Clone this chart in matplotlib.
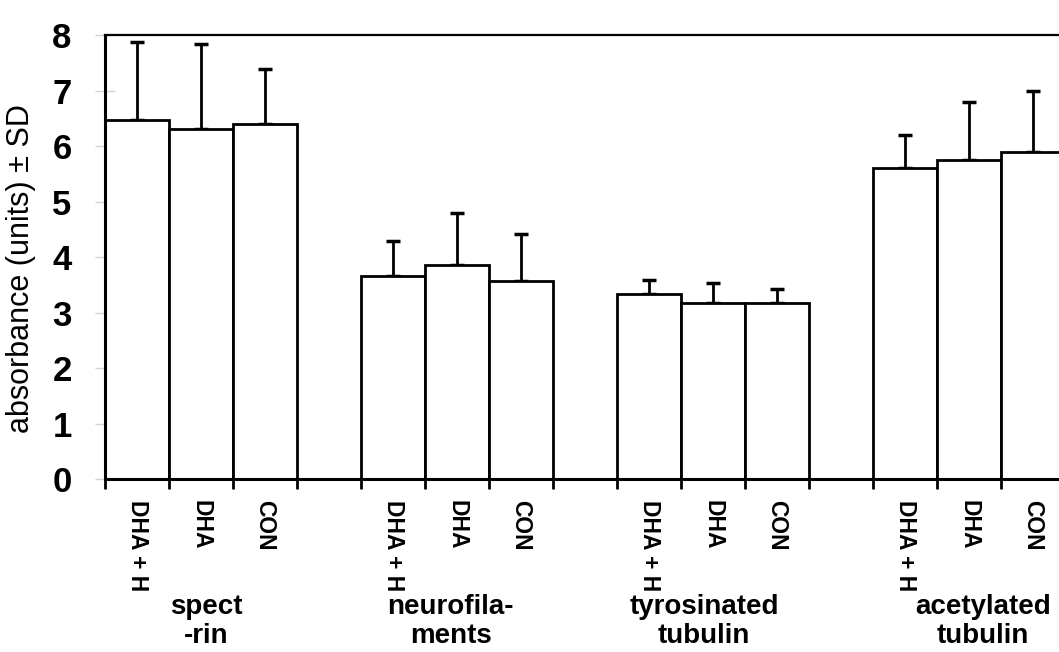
import numpy as np
import matplotlib
matplotlib.use("Agg")
import matplotlib.pyplot as plt

plt.rcParams['font.family'] = ['Liberation Sans', 'DejaVu Sans']

# absorbance per protein, three treatments each
proteins = ["spect\n-rin", "neurofila-\nments", "tyrosinated\ntubulin", "acetylated\ntubulin"]
treatments = ["DHA + H", "DHA", "CON"]
means = [
    [6.46, 6.31, 6.39],   # spectrin
    [3.65, 3.86, 3.57],   # neurofilaments
    [3.33, 3.17, 3.17],   # tyrosinated tubulin
    [5.61, 5.74, 5.90],   # acetylated tubulin
]
sd = [
    [1.42, 1.52, 0.99],
    [0.63, 0.93, 0.84],
    [0.26, 0.37, 0.26],
    [0.59, 1.05, 1.10],
]

fig = plt.figure(figsize=(10.59, 6.52), dpi=100)
ax = fig.add_axes([0.0992, 0.2653, 0.9065, 0.681])

# each group takes 3 slots, then one empty slot
centers, heights, errs, labels = [], [], [], []
for g in range(len(proteins)):
    for t in range(len(treatments)):
        centers.append(g * 4 + t + 0.5)
        heights.append(means[g][t])
        errs.append(sd[g][t])
        labels.append(treatments[t])
centers = np.array(centers)

ax.bar(centers, heights, width=1.0, color="white", edgecolor="black",
       linewidth=2.0, zorder=2)
ax.errorbar(centers, heights, yerr=[np.zeros(len(errs)), errs], fmt="none",
            ecolor="black", elinewidth=2.0, capsize=5, capthick=2.5, zorder=1)

ax.set_xlim(0, 15)
ax.set_ylim(0, 8)

for side in ["left", "bottom"]:
    ax.spines[side].set_linewidth(2.2)
ax.spines["top"].set_linewidth(1.6)
ax.spines["right"].set_visible(False)

ax.set_yticks(range(0, 9))
ax.tick_params(axis="y", direction="inout", length=14, width=1.0,
               color="#d4d4d4", pad=17, labelsize=25)
for lab in ax.get_yticklabels():
    lab.set_fontweight("bold")

# tick marks on every slot edge, labels under the bars
ax.set_xticks(range(0, 16))
ax.set_xticklabels([])
ax.tick_params(axis="x", which="major", direction="out", length=7, width=2.0)
ax.set_xticks(centers, minor=True)
ax.set_xticklabels(labels, minor=True, rotation=270, fontsize=16.5,
                   fontweight="bold", va="top", ha="center")
ax.tick_params(axis="x", which="minor", length=0, pad=15)

ax.set_ylabel("absorbance (units) ± SD", fontsize=22)
ax.yaxis.set_label_coords(-0.072, 0.475)

group_x = [1.58, 5.4, 9.36, 13.72]
for x, name in zip(group_x, proteins):
    ax.text(x, -0.258, name, transform=ax.get_xaxis_transform(), ha="center",
            va="top", fontsize=20, fontweight="bold", linespacing=1.15)

fig.savefig("out.png", dpi=100, facecolor="white")
